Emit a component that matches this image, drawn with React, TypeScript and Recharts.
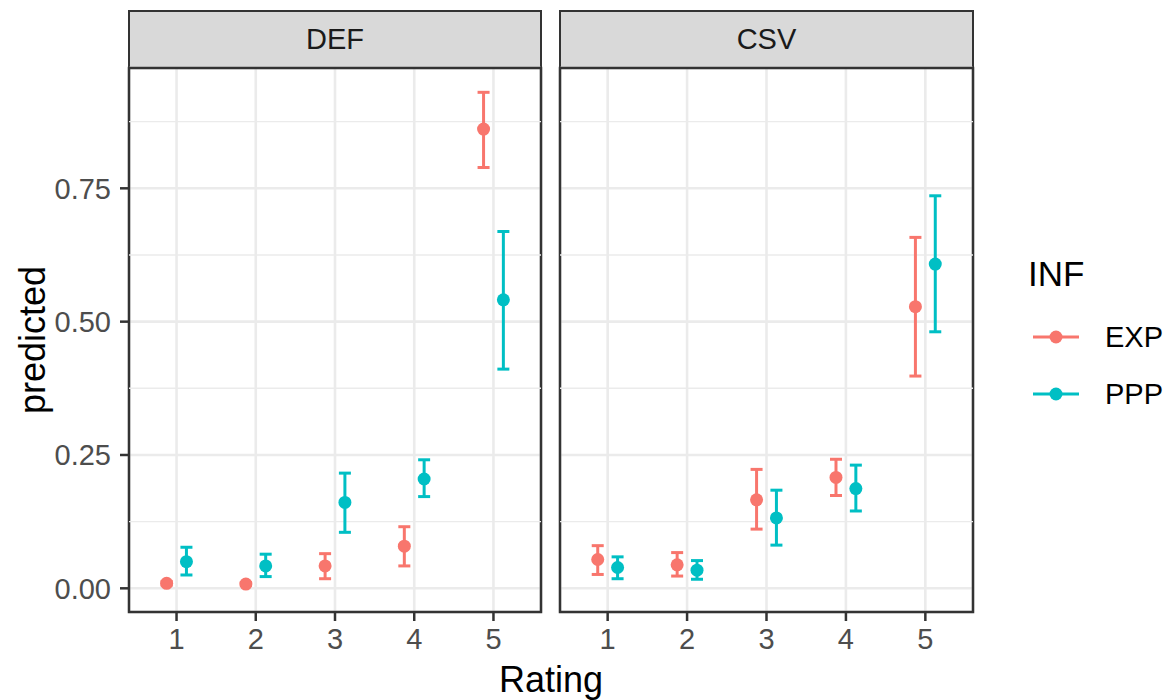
import React from "react";
import {
  ScatterChart,
  Scatter,
  ErrorBar,
  XAxis,
  YAxis,
  CartesianGrid,
  ReferenceLine,
  ReferenceArea,
} from "recharts";

const FONT = '"Liberation Sans", Arial, Helvetica, sans-serif';

// data
const ratings = [1, 2, 3, 4, 5];
const yTicks = [0, 0.25, 0.5, 0.75];
const yMinor = [0.125, 0.375, 0.625, 0.875];
const panels = ["DEF", "CSV"];
const groups = ["EXP", "PPP"];

const defExp = [0.0094, 0.008, 0.042, 0.079, 0.861];
const defExpLo = [0.006, 0.005, 0.018, 0.042, 0.789];
const defExpHi = [0.013, 0.011, 0.065, 0.1155, 0.93];
const defPpp = [0.05, 0.042, 0.161, 0.205, 0.541];
const defPppLo = [0.025, 0.022, 0.105, 0.172, 0.411];
const defPppHi = [0.077, 0.064, 0.216, 0.241, 0.669];

const csvExp = [0.054, 0.044, 0.166, 0.208, 0.528];
const csvExpLo = [0.026, 0.023, 0.111, 0.174, 0.398];
const csvExpHi = [0.08, 0.067, 0.223, 0.242, 0.658];
const csvPpp = [0.039, 0.034, 0.132, 0.187, 0.608];
const csvPppLo = [0.018, 0.017, 0.081, 0.145, 0.481];
const csvPppHi = [0.059, 0.052, 0.184, 0.231, 0.736];

const COLORS: Record<string, string> = { EXP: "#F8766D", PPP: "#00BFC4" };
const X_DOMAIN: [number, number] = [0.4, 5.6];
const Y_DOMAIN: [number, number] = [-0.0444, 0.9756];
const DODGE = 0.125;

type Row = { x: number; y: number; err: [number, number] };

function buildRows(vals: number[], lo: number[], hi: number[], shift: number): Row[] {
  return ratings.map((r, i) => ({
    x: r + shift,
    y: vals[i],
    err: [vals[i] - lo[i], hi[i] - vals[i]],
  }));
}

const panelData: Record<string, Record<string, Row[]>> = {
  DEF: {
    EXP: buildRows(defExp, defExpLo, defExpHi, -DODGE),
    PPP: buildRows(defPpp, defPppLo, defPppHi, DODGE),
  },
  CSV: {
    EXP: buildRows(csvExp, csvExpLo, csvExpHi, -DODGE),
    PPP: buildRows(csvPpp, csvPppLo, csvPppHi, DODGE),
  },
};

const tickStyle = { fill: "#4D4D4D", fontSize: 29, fontFamily: FONT };

function Panel({ name, left, width, showY }: { name: string; left: number; width: number; showY: boolean }) {
  const yw = showY ? 129 : 0;
  const mLeft = showY ? 0 : 4;
  const plotLeft = left + mLeft + yw;
  const plotWidth = width - mLeft - yw - 4;
  return (
    <>
      <div
        style={{
          position: "absolute",
          left: plotLeft - 1,
          top: 10,
          width: plotWidth + 2,
          height: 59,
          boxSizing: "border-box",
          border: "2.5px solid #333333",
          background: "#D9D9D9",
          color: "#1A1A1A",
          fontSize: 29,
          fontFamily: FONT,
          textAlign: "center",
          lineHeight: "54px",
        }}
      >
        {name}
      </div>
      <div style={{ position: "absolute", left, top: 0 }}>
        <ScatterChart width={width} height={700} margin={{ top: 68, right: 4, bottom: 28, left: mLeft }}>
          <CartesianGrid stroke="#EBEBEB" strokeWidth={2.6} />
          {yMinor.map((v) => (
            <ReferenceLine key={v} y={v} stroke="#EBEBEB" strokeWidth={1.4} />
          ))}
          <XAxis
            type="number"
            dataKey="x"
            domain={X_DOMAIN}
            ticks={ratings}
            allowDataOverflow
            height={60}
            tick={tickStyle}
            tickLine={{ stroke: "#333333", strokeWidth: 2.5 }}
            tickSize={9}
            tickMargin={7}
            axisLine={false}
          />
          <YAxis
            type="number"
            dataKey="y"
            domain={Y_DOMAIN}
            ticks={yTicks}
            allowDataOverflow
            hide={!showY}
            width={yw}
            tick={tickStyle}
            tickLine={{ stroke: "#333333", strokeWidth: 2.5 }}
            tickSize={9}
            tickMargin={9}
            axisLine={false}
            tickFormatter={(v: number) => v.toFixed(2)}
          />
          <ReferenceArea
            x1={X_DOMAIN[0]}
            x2={X_DOMAIN[1]}
            y1={Y_DOMAIN[0]}
            y2={Y_DOMAIN[1]}
            fill="none"
            stroke="#333333"
            strokeWidth={2.5}
          />
          {groups.map((g) => (
            <Scatter
              key={g}
              name={g}
              data={panelData[name][g]}
              fill={COLORS[g]}
              isAnimationActive={false}
              shape={(p: any) => <circle cx={p.cx} cy={p.cy} r={6.5} fill={COLORS[g]} />}
            >
              <ErrorBar
                dataKey="err"
                direction="y"
                width={6}
                stroke={COLORS[g]}
                strokeWidth={3}
                isAnimationActive={false}
              />
            </Scatter>
          ))}
        </ScatterChart>
      </div>
    </>
  );
}

export default function App() {
  return (
    <div
      style={{
        position: "absolute",
        left: 0,
        top: 0,
        width: 1169,
        height: 700,
        background: "#FFFFFF",
        fontFamily: FONT,
        overflow: "hidden",
      }}
    >
      <Panel name={panels[0]} left={0} width={545} showY />
      <Panel name={panels[1]} left={556} width={421} showY={false} />
      <svg
        width={1169}
        height={700}
        style={{ position: "absolute", left: 0, top: 0, pointerEvents: "none" }}
        fontFamily={FONT}
      >
        <text
          x={32}
          y={340}
          transform="rotate(-90 32 340)"
          textAnchor="middle"
          dominantBaseline="central"
          fontSize={36}
          fill="#000000"
        >
          predicted
        </text>
        <text x={551} y={692} textAnchor="middle" fontSize={36} fill="#000000">
          Rating
        </text>
        <text x={1028} y={286} fontSize={35} fill="#000000">
          INF
        </text>
        {groups.map((g, i) => {
          const y = 337 + i * 57;
          return (
            <g key={g}>
              <line x1={1033} x2={1079} y1={y} y2={y} stroke={COLORS[g]} strokeWidth={3} />
              <circle cx={1056} cy={y} r={6.5} fill={COLORS[g]} />
              <text x={1105} y={y} dominantBaseline="central" fontSize={29} fill="#000000">
                {g}
              </text>
            </g>
          );
        })}
      </svg>
    </div>
  );
}
